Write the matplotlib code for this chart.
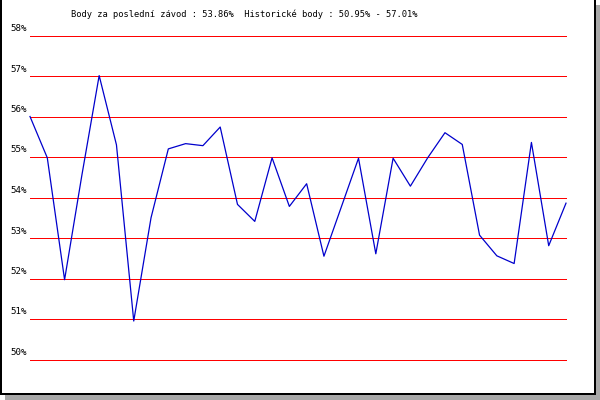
import matplotlib
matplotlib.use("Agg")
import matplotlib.pyplot as plt
from matplotlib.patches import Rectangle

# points per race, in percent
points = [56.0, 54.98, 51.97, 54.55, 57.01, 55.3, 50.95, 53.5,
          55.2, 55.33, 55.28, 55.74, 53.83, 53.41, 54.98, 53.78,
          54.34, 52.55, 53.76, 54.97, 52.61, 54.97, 54.28, 54.98,
          55.6, 55.31, 53.07, 52.56, 52.37, 55.36, 52.81, 53.86]
levels = [50, 51, 52, 53, 54, 55, 56, 57, 58]
title = "Body za poslední závod : 53.86%  Historické body : 50.95% - 57.01%"

W, H = 600, 400
fig = plt.figure(figsize=(W / 100, H / 100), dpi=100)
fig.patch.set_facecolor("white")

# plot area in pixels: x 30..566, y 35..359 (from top)
ax = fig.add_axes([30 / W, (H - 359.5) / H, 536 / W, 324 / H])
ax.set_xlim(0, len(points) - 1)
ax.set_ylim(min(levels), max(levels))
ax.axis("off")

for lv in levels:
    ax.axhline(lv, color="#ff0000", linewidth=0.72, clip_on=False, zorder=1)
    ax.annotate(f"{lv}%", xy=(0, lv), xycoords=("axes fraction", "data"),
                xytext=(-3, 7), textcoords="offset pixels",
                ha="right", va="center", fontsize=6.6,
                family="DejaVu Sans Mono", annotation_clip=False)

ax.plot(range(len(points)), points, color="#0000cc", linewidth=0.9,
        clip_on=False, zorder=2)

fig.text(244 / W, 1 - 14 / H, title, ha="center", va="center",
         fontsize=6.3, family="DejaVu Sans Mono")

# frame and drop shadow
def px_rect(x, y, w, h, color):
    fig.add_artist(Rectangle((x / W, 1 - (y + h) / H), w / W, h / H,
                             transform=fig.transFigure, facecolor=color,
                             edgecolor="none", zorder=10))

px_rect(596, 5, 4, 395, "#a8a8a8")
px_rect(5, 395, 595, 5, "#a8a8a8")
px_rect(0, 0, 2, 395, "black")
px_rect(594, 0, 2, 395, "black")
px_rect(0, 393, 596, 2, "black")

fig.savefig("out.png", dpi=100)
